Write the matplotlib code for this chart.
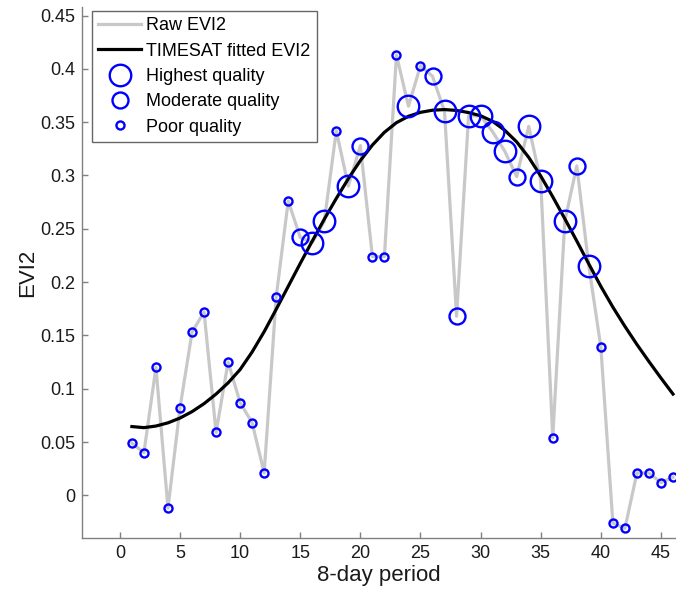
import matplotlib
matplotlib.use("Agg")
import matplotlib.pyplot as plt
from matplotlib.lines import Line2D

plt.rcParams['font.family'] = ['Liberation Sans', 'DejaVu Sans']

period = list(range(1, 47))
raw_evi2 = [0.049, 0.040, 0.120, -0.012, 0.082, 0.153, 0.172, 0.059, 0.125, 0.087,
            0.068, 0.021, 0.186, 0.276, 0.242, 0.237, 0.257, 0.342, 0.290, 0.328,
            0.224, 0.224, 0.413, 0.365, 0.403, 0.393, 0.360, 0.168, 0.356, 0.356,
            0.341, 0.323, 0.299, 0.346, 0.295, 0.054, 0.257, 0.309, 0.215, 0.139,
            -0.026, -0.031, 0.021, 0.021, 0.012, 0.017]
fitted_evi2 = [0.0645, 0.0635, 0.065, 0.068, 0.0725, 0.0785, 0.086, 0.095, 0.1055, 0.118,
               0.1345, 0.1535, 0.1745, 0.196, 0.2175, 0.2385, 0.259, 0.2785, 0.297, 0.314,
               0.3285, 0.3405, 0.3495, 0.3555, 0.3592, 0.3612, 0.3618, 0.361, 0.359, 0.356,
               0.3508, 0.3425, 0.3315, 0.317, 0.2995, 0.280, 0.2595, 0.2385, 0.217, 0.196,
               0.1765, 0.1585, 0.1415, 0.1255, 0.110, 0.095]
# quality: H = highest, M = moderate, P = poor
quality = ['P'] * 14 + ['M', 'H', 'H', 'P', 'H', 'M', 'P', 'P', 'P', 'H', 'P', 'M',
                        'H', 'M', 'H', 'H', 'H', 'H', 'M', 'H', 'H', 'P', 'H', 'M',
                        'H', 'P', 'P', 'P', 'P', 'P', 'P', 'P']

x_ticks = [0, 5, 10, 15, 20, 25, 30, 35, 40, 45]
y_ticks = [0, 0.05, 0.1, 0.15, 0.2, 0.25, 0.3, 0.35, 0.4, 0.45]
y_tick_labels = ['0', '0.05', '0.1', '0.15', '0.2', '0.25', '0.3', '0.35', '0.4', '0.45']

W, H = 676, 590
fig = plt.figure(figsize=(W / 100, H / 100), dpi=100)
ax = fig.add_axes([82 / W, (H - 538) / H, (676 - 82) / W, (538 - 7) / H])

ax.plot(period, raw_evi2, color='#c8c8c8', lw=2.3, zorder=1, solid_joinstyle='round')
ax.plot(period, fitted_evi2, color='black', lw=2.3, zorder=2, solid_joinstyle='round')

sizes = {'H': 15.5, 'M': 11.5, 'P': 5.8}
for q in ['P', 'M', 'H']:
    xs = [p for p, qq in zip(period, quality) if qq == q]
    ys = [v for v, qq in zip(raw_evi2, quality) if qq == q]
    ax.plot(xs, ys, ls='none', marker='o', ms=sizes[q], mfc='none',
            mec='#0000ff', mew=1.7, zorder=3)

ax.set_xlim(-3.15, 46.25)
ax.set_ylim(-0.04, 0.458)
ax.set_xticks(x_ticks)
ax.set_yticks(y_ticks)
ax.set_yticklabels(y_tick_labels)
for s in ['top', 'right']:
    ax.spines[s].set_visible(False)
for s in ['left', 'bottom']:
    ax.spines[s].set_color('#808080')
    ax.spines[s].set_linewidth(1.0)
ax.tick_params(direction='in', length=4, width=1.0, color='#808080',
               labelsize=13, labelcolor='#1a1a1a', pad=5)
ax.set_xlabel('8-day period', fontsize=16, color='#1a1a1a', labelpad=2)
ax.set_ylabel('EVI2', fontsize=16, color='#1a1a1a', labelpad=1)

handles = [
    Line2D([], [], color='#c8c8c8', lw=2.3),
    Line2D([], [], color='black', lw=2.3),
    Line2D([], [], ls='none', marker='o', ms=sizes['H'], mfc='none', mec='#0000ff', mew=1.7),
    Line2D([], [], ls='none', marker='o', ms=sizes['M'], mfc='none', mec='#0000ff', mew=1.7),
    Line2D([], [], ls='none', marker='o', ms=sizes['P'], mfc='none', mec='#0000ff', mew=1.7),
]
labels = ['Raw EVI2', 'TIMESAT fitted EVI2', 'Highest quality', 'Moderate quality', 'Poor quality']
leg = ax.legend(handles, labels, loc='upper left', bbox_to_anchor=(10 / 594, 1 - 4 / 531),
                fontsize=13, frameon=True, fancybox=False, edgecolor='#404040',
                handlelength=2.35, handletextpad=0.3, labelspacing=0.46,
                borderpad=0.35, borderaxespad=0.0)
leg.get_frame().set_linewidth(1.0)

fig.savefig('out.png', dpi=100)
